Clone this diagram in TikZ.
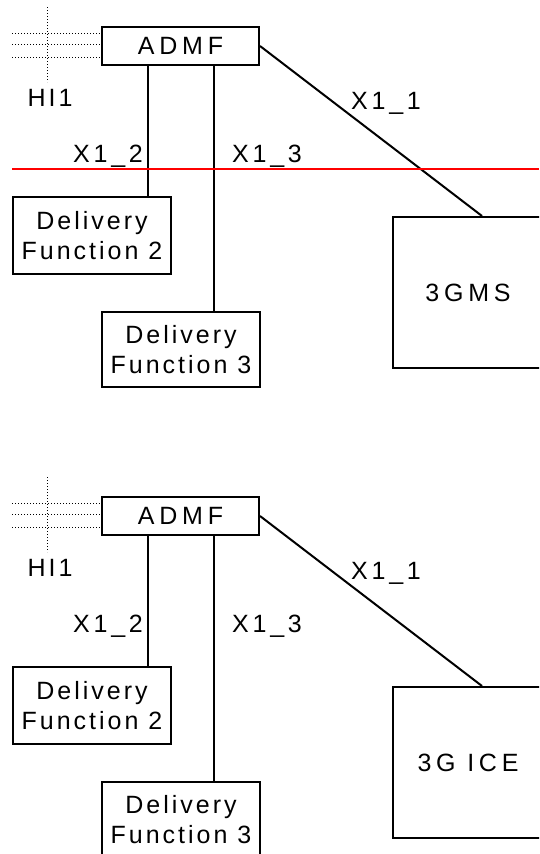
\documentclass[tikz,border=0pt]{standalone}
\usepackage{fontspec}
\setmainfont{Liberation Sans}
\newfontfamily\lsnorm[LetterSpace=12]{Liberation Sans}
\newfontfamily\lsmid[LetterSpace=15]{Liberation Sans}
\newfontfamily\lswide[LetterSpace=19]{Liberation Sans}
\tikzset{
  box/.style={draw=black, line width=2pt, rectangle, inner sep=0pt, align=center,
    font=\lsnorm\fontsize{25}{30}\selectfont},
  lbl/.style={inner sep=0pt, font=\lsmid\fontsize{25}{30}\selectfont},
  conn/.style={draw=black, line width=2pt},
  dots/.style={draw=black, line width=1pt, dash pattern=on 1pt off 2pt},
  redline/.style={draw=red, line width=2pt}
}
\newcommand{\onediag}[3]{%
  \begin{scope}[yshift=#3]
    \node[box, minimum width=157pt, minimum height=38pt, font=\lswide\fontsize{25}{30}\selectfont] (admf#1) at (180.5,46) {ADMF};
    \node[box, minimum width=158pt, minimum height=77pt] (dfa#1) at (92,235.5) {Delivery\\Function 2};
    \node[box, minimum width=158pt, minimum height=75pt] (dfb#1) at (181,349.5) {Delivery\\Function 3};
    \node[box, minimum width=150pt, minimum height=151pt, font=\lswide\fontsize{25}{30}\selectfont] (ms#1) at (468,292.5) {#2};
    \coordinate (ca#1) at (148,0);
    \coordinate (cb#1) at (214,0);
    \coordinate (cc#1) at (482,0);
    \draw[conn] (ca#1 |- admf#1.south) -- (ca#1 |- dfa#1.north);
    \draw[conn] (cb#1 |- admf#1.south) -- (cb#1 |- dfb#1.north);
    \draw[conn] (admf#1.east) -- (cc#1 |- ms#1.north);
    \node[lbl] (xa#1) at (108,156) {X1\_2};
    \node[lbl] (xb#1) at (267,156) {X1\_3};
    \node[lbl] (xc#1) at (386,103) {X1\_1};
    \node[lbl, font=\lsnorm\fontsize{25}{30}\selectfont] (hi#1) at (50,98) {HI1};
    \coordinate (dv1#1) at (47,7);
    \coordinate (dv2#1) at (47,82);
    \coordinate (dh1#1) at (12,33);
    \coordinate (dh2#1) at (12,44);
    \coordinate (dh3#1) at (12,57);
    \draw[dots] (dv1#1) -- (dv2#1);
    \draw[dots] (dh1#1) -- (dh1#1 -| admf#1.west);
    \draw[dots] (dh2#1) -- (dh2#1 -| admf#1.west);
    \draw[dots] (dh3#1) -- (dh3#1 -| admf#1.west);
  \end{scope}}
\begin{document}
\begin{tikzpicture}[x=1pt,y=-1pt]
  \useasboundingbox (0,0) rectangle (539,854);
  \clip (0,0) rectangle (539,854);
  \onediag{t}{3GMS}{0pt}
  \coordinate (rl) at (12,169);
  \coordinate (rr) at (539,169);
  \draw[redline] (rl) -- (rr);
  \onediag{b}{3G ICE}{-470pt}
\end{tikzpicture}
\end{document}
